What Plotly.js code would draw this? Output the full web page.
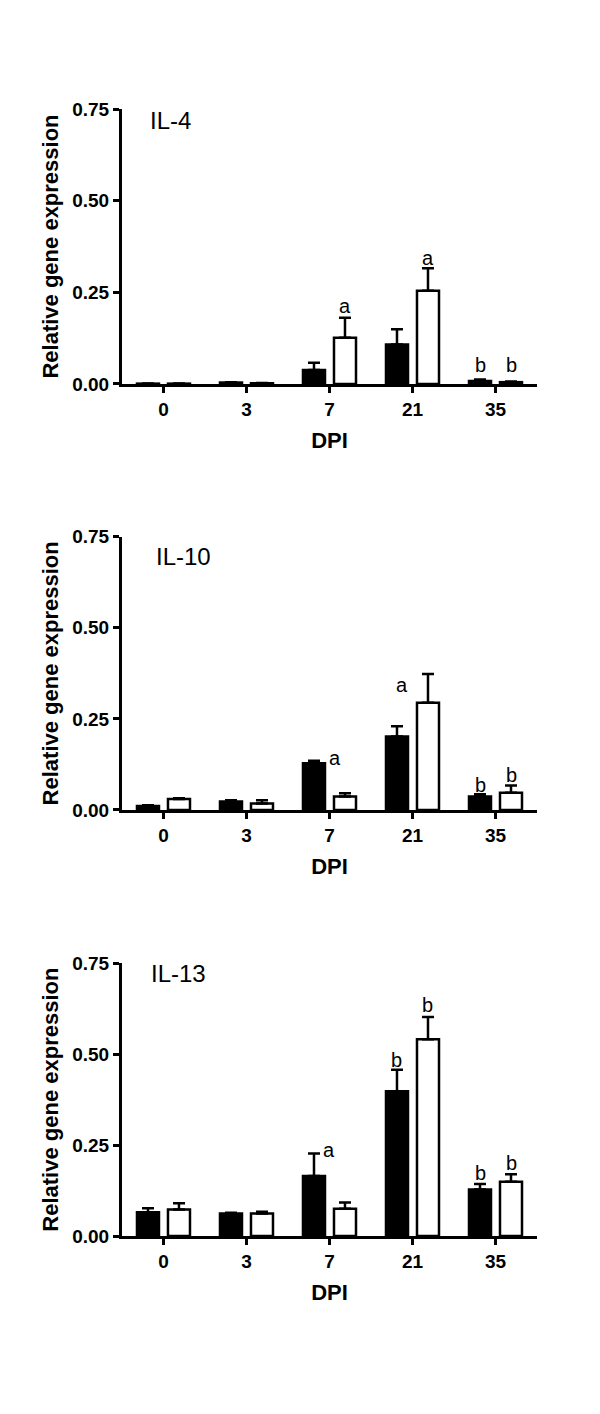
<!DOCTYPE html>
<html>
<head>
<meta charset="utf-8">
<script src="https://cdn.plot.ly/plotly-3.0.1.min.js"></script>
<style>
  html, body { margin: 0; padding: 0; background: #fff; }
  #chart { width: 600px; height: 1414px; }
</style>
</head>
<body>
<div id="chart"></div>
<script>
/* ── DATA ──────────────────────────────── */
const days = ['0', '3', '7', '21', '35'];
const yTicks = [0, 0.25, 0.5, 0.75];

// IL-4
const il4Black    = [0.001, 0.004, 0.038, 0.108, 0.008];
const il4BlackSem = [0.0005, 0.001, 0.020, 0.041, 0.004];
const il4White    = [0.001, 0.002, 0.126, 0.254, 0.005];
const il4WhiteSem = [0.0005, 0.001, 0.055, 0.062, 0.002];

// IL-10
const il10Black    = [0.011, 0.023, 0.128, 0.202, 0.037];
const il10BlackSem = [0.002, 0.004, 0.007, 0.028, 0.006];
const il10White    = [0.030, 0.018, 0.037, 0.294, 0.047];
const il10WhiteSem = [0.002, 0.009, 0.009, 0.079, 0.020];

// IL-13
const il13Black    = [0.065, 0.062, 0.165, 0.398, 0.128];
const il13BlackSem = [0.011, 0.002, 0.062, 0.059, 0.015];
const il13White    = [0.073, 0.062, 0.075, 0.541, 0.149];
const il13WhiteSem = [0.017, 0.005, 0.017, 0.061, 0.021];

// significance letters: [day, group, letter, height]
const il4Letters = [
  ['7', 'white', 'a', 0.213], ['21', 'white', 'a', 0.344],
  ['35', 'black', 'b', 0.052], ['35', 'white', 'b', 0.052],
];
const il10Letters = [
  ['7', 'mid', 'a', 0.144], ['21', 'midl', 'a', 0.343],
  ['35', 'black', 'b', 0.069], ['35', 'white', 'b', 0.096],
];
const il13Letters = [
  ['7', 'center', 'a', 0.236], ['21', 'black', 'b', 0.484], ['21', 'white', 'b', 0.635],
  ['35', 'black', 'b', 0.173], ['35', 'white', 'b', 0.201],
];

/* ── STYLE ─────────────────────────────── */
const FONT = 'Liberation Sans, Arial, sans-serif';
const LETTER_SHIFT = { black: -15.5, white: 15.5, mid: 6, midl: -10, center: 0 };

const panels = [
  { name: 'IL-4',  black: il4Black,  blackSem: il4BlackSem,  white: il4White,  whiteSem: il4WhiteSem,  letters: il4Letters,  domain: [0.72843, 0.92291], labelX: 0.246, labelY: 0.958 },
  { name: 'IL-10', black: il10Black, blackSem: il10BlackSem, white: il10White, whiteSem: il10WhiteSem, letters: il10Letters, domain: [0.42716, 0.62044], labelX: 0.256, labelY: 0.927 },
  { name: 'IL-13', black: il13Black, blackSem: il13BlackSem, white: il13White, whiteSem: il13WhiteSem, letters: il13Letters, domain: [0.12588, 0.31874], labelX: 0.248, labelY: 0.963 },
];

/* ── TRACE FACTORY ─────────────────────── */
function barTrace(values, sem, fill, axisIdx) {
  const suffix = axisIdx === 1 ? '' : String(axisIdx);
  return {
    type: 'bar',
    x: days,
    y: values,
    xaxis: 'x' + suffix,
    yaxis: 'y' + suffix,
    marker: { color: fill, line: { color: '#000', width: 2.5 } },
    error_y: {
      type: 'data', symmetric: false,
      array: sem, arrayminus: sem.map(() => 0),
      color: '#000', thickness: 2.5, width: 6,
    },
    showlegend: false,
    hoverinfo: 'skip',
  };
}

const traces = [];
const annotations = [];
const layout = {
  width: 600,
  height: 1414,
  paper_bgcolor: '#fff',
  plot_bgcolor: '#fff',
  margin: { l: 0, r: 0, t: 0, b: 0 },
  bargap: 0.253,
  bargroupgap: 0.29,
  barmode: 'group',
  showlegend: false,
  font: { family: FONT, color: '#000' },
};

panels.forEach((p, i) => {
  const idx = i + 1;
  const suffix = idx === 1 ? '' : String(idx);
  traces.push(barTrace(p.black, p.blackSem, '#000', idx));
  traces.push(barTrace(p.white, p.whiteSem, '#fff', idx));

  layout['xaxis' + suffix] = {
    domain: [0.2033, 0.895],
    anchor: 'y' + suffix,
    type: 'category',
    range: [-0.5, 4.5],
    showline: true, linewidth: 3, linecolor: '#000',
    ticks: 'outside', ticklen: 6, tickwidth: 3, tickcolor: '#000',
    tickfont: { family: FONT, size: 19, weight: 'bold', color: '#000' },
    showgrid: false, zeroline: false, fixedrange: true,
    title: { text: 'DPI', font: { family: FONT, size: 22, weight: 'bold', color: '#000' }, standoff: 14 },
  };
  layout['yaxis' + suffix] = {
    domain: p.domain,
    anchor: 'x' + suffix,
    range: [0, 0.75],
    tickvals: yTicks,
    tickformat: '.2f',
    showline: true, linewidth: 3, linecolor: '#000',
    ticks: 'outside', ticklen: 6, tickwidth: 3, tickcolor: '#000',
    tickfont: { family: FONT, size: 19, weight: 'bold', color: '#000' },
    showgrid: false, zeroline: false, fixedrange: true,
    title: { text: 'Relative gene expression', font: { family: FONT, size: 22, weight: 'bold', color: '#000' }, standoff: 8 },
  };

  // panel label
  annotations.push({
    xref: 'paper', yref: 'y' + suffix + ' domain',
    x: p.labelX, y: p.labelY, xanchor: 'left', yanchor: 'middle',
    text: p.name, showarrow: false,
    font: { family: FONT, size: 24, color: '#000' },
  });

  // significance letters (category axis: position by index)
  p.letters.forEach(([day, grp, letter, h]) => {
    annotations.push({
      xref: 'x' + suffix, yref: 'y' + suffix,
      x: days.indexOf(day), y: h, xshift: LETTER_SHIFT[grp],
      xanchor: 'center', yanchor: 'middle',
      text: letter, showarrow: false,
      font: { family: FONT, size: 20, color: '#000' },
    });
  });
});

layout.annotations = annotations;

Plotly.newPlot('chart', traces, layout, { displayModeBar: false, staticPlot: true });
</script>
</body>
</html>
